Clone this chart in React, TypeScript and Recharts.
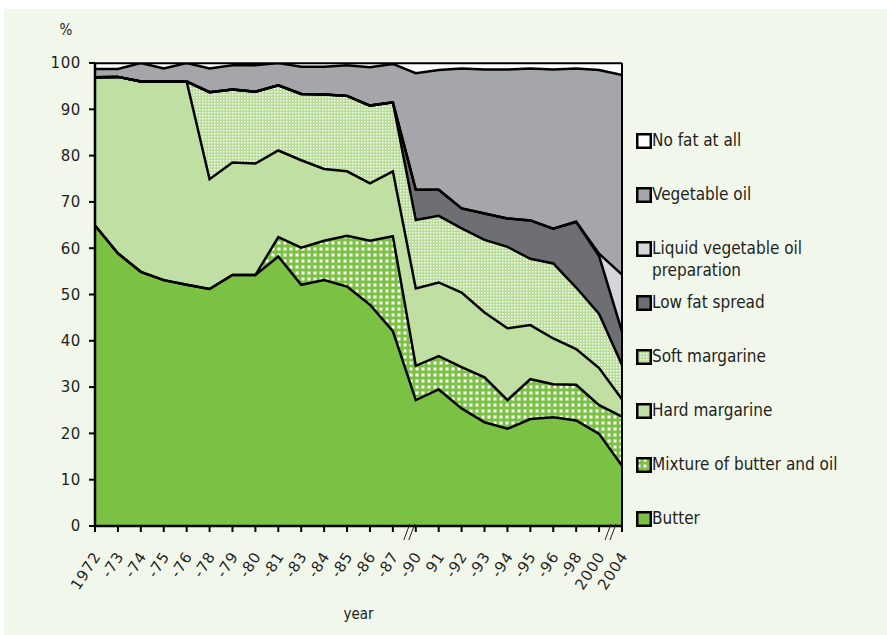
import { AreaChart, Area, XAxis, YAxis, ReferenceLine } from 'recharts'

const years = [
  '1972', '-73', '-74', '-75', '-76', '-78', '-79', '-80', '-81', '-83', '-84', '-85',
  '-86', '-87', '-90', '91', '-92', '-93', '-94', '-95', '-96', '-98', '2000', '2004',
]
const butter = [64.9, 58.9, 54.9, 53.1, 52.1, 51.2, 54.2, 54.2, 58.2, 52.1, 53.1, 51.7, 47.8, 42.1, 27.2, 29.5, 25.4, 22.4, 21.0, 23.1, 23.5, 22.8, 19.9, 13.0]
const mixture = [0, 0, 0, 0, 0, 0, 0, 0, 4.2, 8.0, 8.5, 11.0, 13.8, 20.5, 7.4, 7.2, 8.9, 9.7, 6.2, 8.6, 7.1, 7.7, 6.2, 10.6]
const hardMargarine = [32.0, 38.1, 41.1, 42.9, 43.9, 23.7, 24.3, 24.1, 18.7, 18.9, 15.5, 13.9, 12.4, 14.0, 16.7, 15.9, 16.1, 14.0, 15.5, 11.7, 9.9, 7.7, 8.0, 3.8]
const softMargarine = [0, 0, 0, 0, 0, 18.8, 15.8, 15.5, 14.1, 14.3, 16.1, 16.3, 16.8, 14.9, 14.8, 14.4, 13.9, 15.7, 17.6, 14.3, 16.2, 13.3, 11.7, 7.4]
const lowFat = [0, 0, 0, 0, 0, 0, 0, 0, 0, 0, 0, 0, 0, 0, 6.5, 5.6, 4.3, 5.7, 6.1, 8.3, 7.5, 14.2, 12.5, 7.2]
const liquidOil = [0, 0, 0, 0, 0, 0, 0, 0, 0, 0, 0, 0, 0, 0, 0, 0, 0, 0, 0, 0, 0, 0, 0.5, 12.3]
const vegetableOil = [1.8, 1.7, 4.0, 2.8, 4.0, 5.1, 5.2, 5.7, 4.8, 5.9, 6.0, 6.6, 8.3, 8.3, 25.2, 25.9, 30.2, 31.1, 32.2, 32.8, 34.4, 33.1, 39.7, 43.1]
const noFat = [1.3, 1.3, 0, 1.2, 0, 1.2, 0.5, 0.5, 0, 0.8, 0.8, 0.5, 0.9, 0.2, 2.2, 1.5, 1.2, 1.4, 1.4, 1.2, 1.4, 1.2, 1.5, 2.6]
const yTicks = [0, 10, 20, 30, 40, 50, 60, 70, 80, 90, 100]

// stacking order, bottom first
const series = [
  { key: 'butter', name: 'Butter', fill: '#7bc144' },
  { key: 'mixture', name: 'Mixture of butter and oil', fill: 'url(#mixPat)' },
  { key: 'hard', name: 'Hard margarine', fill: '#bfe0a2' },
  { key: 'soft', name: 'Soft margarine', fill: 'url(#softPat)' },
  { key: 'lowFat', name: 'Low fat spread', fill: '#6e6f72' },
  { key: 'liquid', name: ['Liquid vegetable oil', 'preparation'], fill: '#d5d6da' },
  { key: 'vegOil', name: 'Vegetable oil', fill: '#a5a6aa' },
  { key: 'noFat', name: 'No fat at all', fill: '#ffffff' },
]

const data = years.map((year, i) => ({
  year,
  butter: butter[i],
  mixture: mixture[i],
  hard: hardMargarine[i],
  soft: softMargarine[i],
  lowFat: lowFat[i],
  liquid: liquidOil[i],
  vegOil: vegetableOil[i],
  noFat: noFat[i],
}))

const FONT = "'DejaVu Sans Condensed', 'DejaVu Sans', sans-serif"
const TICK_FONT = "'DejaVu Sans', sans-serif"

function XTick(props: { x?: number; y?: number; payload?: { value: string } }) {
  const { x = 0, y = 0, payload } = props
  const v = payload?.value ?? ''
  // axis break marks sit just left of these ticks
  const brk = v === '-90' ? 6 : v === '2004' ? 11 : 0
  const ay = y - 8
  return (
    <g>
      {brk > 0 && (
        <g stroke="#231f20" strokeWidth={1}>
          <line x1={x - brk - 6} y1={ay + 14} x2={x - brk} y2={ay - 2} />
          <line x1={x - brk - 1} y1={ay + 14} x2={x - brk + 5} y2={ay - 2} />
        </g>
      )}
      <text
        transform={`translate(${x + 3},${y + 20}) rotate(-57)`}
        textAnchor="end"
        fontSize={15}
        fontFamily={TICK_FONT}
        letterSpacing={0.8}
        fill="#231f20"
        dy={4}
      >
        {v}
      </text>
    </g>
  )
}

function LegendBox() {
  const items = [...series].reverse()
  return (
    <div style={{ position: 'absolute', left: 636, top: 132, fontFamily: FONT, fontSize: 17, color: '#231f20' }}>
      {items.map((s) => (
        <div key={s.key} style={{ height: 54, display: 'flex', alignItems: 'flex-start' }}>
          <svg width={16} height={16} style={{ marginTop: 1, flexShrink: 0 }}>
            <rect x={1.25} y={1.25} width={13.5} height={13.5} fill={s.fill} stroke="#000" strokeWidth={2.5} />
          </svg>
          <div style={{ lineHeight: '22px', marginTop: -3, whiteSpace: 'nowrap' }}>
            {Array.isArray(s.name) ? s.name.map((n) => <div key={n}>{n}</div>) : s.name}
          </div>
        </div>
      ))}
    </div>
  )
}

export default function App() {
  return (
    <div style={{ position: 'absolute', left: 0, top: 0, width: 887, height: 635, background: '#fff' }}>
      <div style={{ position: 'absolute', left: 4, top: 9, right: 0, bottom: 0, background: '#f2f7ec' }} />
      <div style={{ position: 'absolute', left: 0, top: 0 }}>
        <AreaChart width={887} height={635} data={data} margin={{ top: 63, right: 265, left: 0, bottom: 0 }}>
          <defs>
            <pattern id="mixPat" width={6} height={6} patternUnits="userSpaceOnUse">
              <rect width={6} height={6} fill="#7bc144" />
              <rect x={1.5} y={1.5} width={3} height={3} fill="#ffffff" />
            </pattern>
            <pattern id="softPat" width={3} height={3} patternUnits="userSpaceOnUse">
              <rect width={3} height={3} fill="#b9dd98" />
              <rect x={1} y={1} width={1.5} height={1.5} fill="#ffffff" opacity={0.85} />
            </pattern>
          </defs>
          <XAxis
            dataKey="year"
            interval={0}
            height={109}
            tick={<XTick />}
            tickSize={6}
            axisLine={{ stroke: '#000', strokeWidth: 2.5 }}
            tickLine={{ stroke: '#000', strokeWidth: 2 }}
            label={{ value: 'year', position: 'insideBottom', offset: 16, fontSize: 15, fontFamily: FONT, fill: '#231f20' }}
          />
          <YAxis
            width={95}
            domain={[0, 100]}
            ticks={yTicks}
            allowDataOverflow
            tickSize={6}
            tickMargin={8}
            tick={{ fontSize: 15, fontFamily: TICK_FONT, letterSpacing: 0.6, fill: '#231f20' }}
            axisLine={{ stroke: '#000', strokeWidth: 2.5 }}
            tickLine={{ stroke: '#000', strokeWidth: 2 }}
            label={({ viewBox }: { viewBox?: { x: number; y: number; width: number } }) =>
              viewBox ? (
                <text x={viewBox.x + viewBox.width - 29} y={viewBox.y - 28} fontSize={15} fontFamily={FONT} fill="#231f20" textAnchor="middle">
                  %
                </text>
              ) : null
            }
          />
          {series.map((s) => (
            <Area
              key={`f-${s.key}`}
              type="linear"
              dataKey={s.key}
              stackId="fill"
              fill={s.fill}
              fillOpacity={1}
              stroke="none"
              isAnimationActive={false}
              dot={false}
              activeDot={false}
            />
          ))}
          {series.map((s) => (
            <Area
              key={`l-${s.key}`}
              type="linear"
              dataKey={s.key}
              stackId="line"
              fill="none"
              stroke="#000"
              strokeWidth={2.5}
              strokeLinejoin="miter"
              isAnimationActive={false}
              dot={false}
              activeDot={false}
            />
          ))}
          <ReferenceLine y={100} stroke="#000" strokeWidth={1.5} />
          <ReferenceLine x="2004" stroke="#000" strokeWidth={2} />
        </AreaChart>
      </div>
      <LegendBox />
    </div>
  )
}
